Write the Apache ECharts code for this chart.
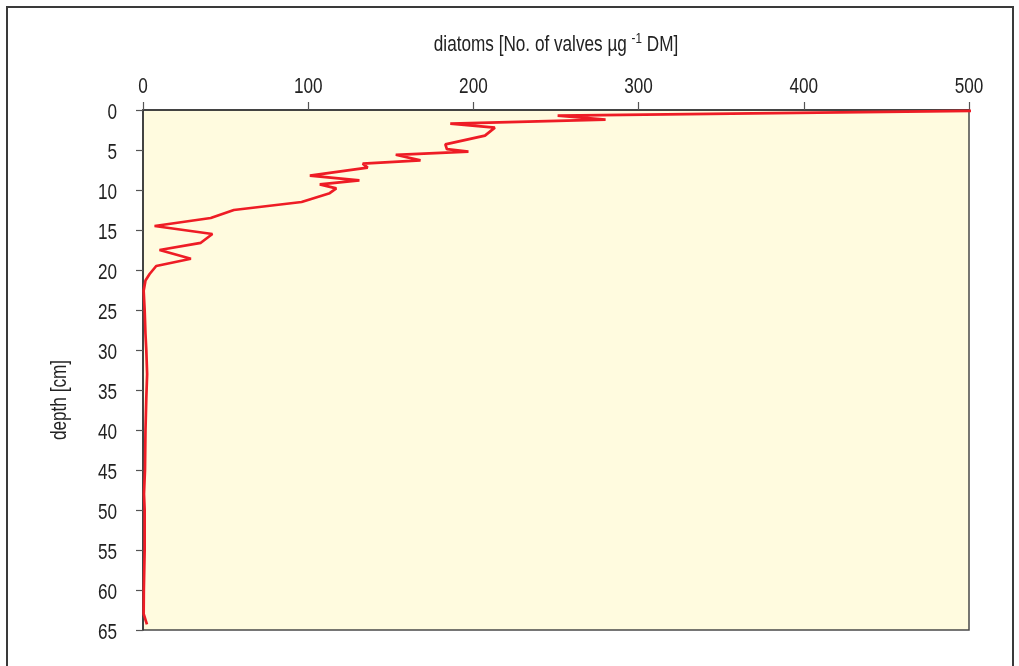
<!DOCTYPE html>
<html>
<head>
<meta charset="utf-8">
<title>Diatoms profile</title>
<script src="https://cdn.jsdelivr.net/npm/echarts@6/dist/echarts.min.js"></script>
<style>
  html, body { margin: 0; padding: 0; background: #ffffff; }
  #chart { width: 1019px; height: 666px; }
</style>
</head>
<body>
<div id="chart"></div>
<script>
// Diatom concentration down the core (valves per µg dry matter) against depth (cm)
const depths = [
  0.1, 0.7, 1.2, 1.7, 2.2, 3.2, 4.3, 4.9, 5.2, 5.6, 6.3, 6.7, 7.2, 8.2, 8.8, 9.3,
  9.8, 10.4, 11.5, 12.5, 13.5, 14.5, 15.5, 16.6, 17.5, 18.6, 19.5, 20.5, 21.3, 22.6,
  25, 28, 30, 33, 36, 40, 45, 48, 50, 55, 60, 63, 64.3
];
const diatoms = [
  503, 251, 280, 186, 213, 207, 183, 184, 197, 153, 168, 133, 136, 101, 131, 107,
  117, 113, 96, 55, 41, 7, 42, 35, 10, 29, 8, 4, 1.5, 0.4,
  1, 1.5, 2, 2.5, 2, 1.5, 1.2, 0.6, 1, 1, 0.5, 0.4, 2.4
];
const valueTickLabels = [0, 100, 200, 300, 400, 500];
const depthTickLabels = [0, 5, 10, 15, 20, 25, 30, 35, 40, 45, 50, 55, 60, 65];

// Condensed look: regular sans squeezed horizontally
const FONT = '"Liberation Sans", Arial, sans-serif';
const FS = 22;
const SQUEEZE = 0.78;
const INK = '#222';

const points = depths.map((d, i) => [diatoms[i], d]);

const chart = echarts.init(document.getElementById('chart'), null, { renderer: 'canvas' });
chart.setOption({
  animation: false,
  backgroundColor: '#ffffff',
  grid: {
    left: 143, right: 50, top: 110, bottom: 36,
    show: true,
    backgroundColor: '#fffbdf',
    borderColor: '#4a4a4a',
    borderWidth: 1.5
  },
  xAxis: {
    type: 'value',
    position: 'top',
    min: valueTickLabels[0], max: valueTickLabels[valueTickLabels.length - 1],
    interval: valueTickLabels[1] - valueTickLabels[0],
    axisLine: { show: true, lineStyle: { color: '#333', width: 1.5 } },
    axisTick: { show: true, inside: false, length: 8, lineStyle: { color: '#555', width: 1.2 } },
    axisLabel: { show: false },
    splitLine: { show: false }
  },
  yAxis: {
    type: 'value',
    inverse: true,
    min: depthTickLabels[0], max: depthTickLabels[depthTickLabels.length - 1],
    interval: depthTickLabels[1] - depthTickLabels[0],
    axisLine: { show: true, lineStyle: { color: '#333', width: 1.5 } },
    axisTick: { show: true, inside: false, length: 7, lineStyle: { color: '#555', width: 1.2 } },
    axisLabel: { show: false },
    splitLine: { show: false }
  },
  series: [{
    type: 'line',
    data: points,
    showSymbol: false,
    symbol: 'none',
    clip: false,
    lineStyle: { color: '#ee1c25', width: 2.7 },
    z: 3
  }]
});

// Tick labels, axis titles and the outer frame, placed through the axis scales
const labels = [];
const toPx = (v, d) => chart.convertToPixel({ gridIndex: 0 }, [v, d]);
const axisTop = toPx(0, 0)[1];
const axisLeft = toPx(0, 0)[0];

valueTickLabels.forEach(v => {
  labels.push({
    type: 'text', x: toPx(v, 0)[0], y: axisTop - 23, scaleX: SQUEEZE, silent: true,
    style: { text: String(v), fontFamily: FONT, fontSize: FS, fill: INK, align: 'center', verticalAlign: 'middle' }
  });
});
depthTickLabels.forEach(d => {
  labels.push({
    type: 'text', x: axisLeft - 26, y: toPx(0, d)[1] + 3, scaleX: SQUEEZE, silent: true,
    style: { text: String(d), fontFamily: FONT, fontSize: FS, fill: INK, align: 'right', verticalAlign: 'middle' }
  });
});

const plotCenterX = (toPx(valueTickLabels[0], 0)[0] + toPx(valueTickLabels[valueTickLabels.length - 1], 0)[0]) / 2;
labels.push({
  type: 'text', x: plotCenterX, y: 45, scaleX: SQUEEZE, silent: true,
  style: {
    text: 'diatoms [No. of valves µg {sup|-1} DM]',
    fontFamily: FONT, fontSize: FS, fill: INK, align: 'center', verticalAlign: 'middle',
    rich: { sup: { fontFamily: FONT, fontSize: 15, fill: INK, padding: [0, 0, 12, 0] } }
  }
});
labels.push({
  type: 'text', x: 60, y: 400, rotation: Math.PI / 2, scaleX: SQUEEZE, silent: true,
  style: { text: 'depth [cm]', fontFamily: FONT, fontSize: FS, fill: INK, align: 'center', verticalAlign: 'middle' }
});
labels.push({
  type: 'rect', silent: true,
  shape: { x: 7, y: 7, width: 1006, height: 700 },
  style: { fill: 'none', stroke: '#3a3a3a', lineWidth: 2 }
});

chart.setOption({ graphic: labels });
</script>
</body>
</html>
